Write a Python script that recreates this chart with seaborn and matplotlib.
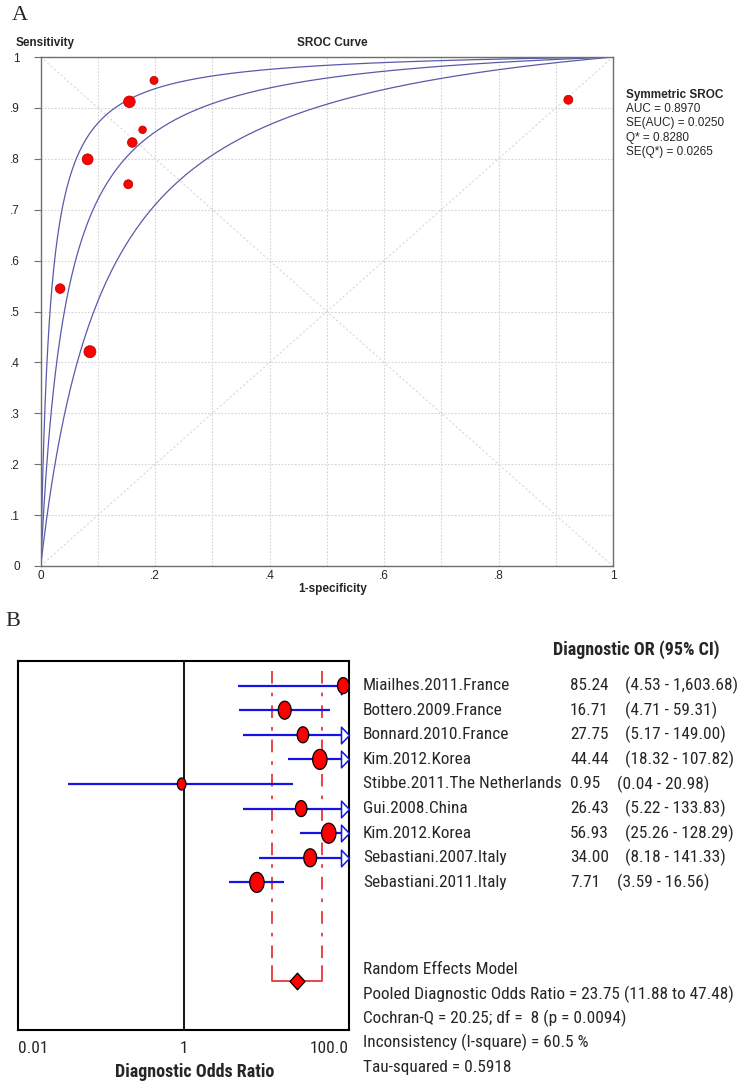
import matplotlib
matplotlib.use("Agg")
import matplotlib.pyplot as plt
from matplotlib.path import Path
import numpy as np
import pandas as pd
import seaborn as sns

# --- panel A: SROC data ---
fpr = [0.198, 0.155, 0.178, 0.160, 0.082, 0.153, 0.034, 0.086, 0.922]
sens = [0.954, 0.912, 0.857, 0.832, 0.799, 0.750, 0.545, 0.421, 0.916]
sroc_size = [34, 70, 30, 48, 62, 42, 48, 75, 42]
# log DOR of the upper bound, symmetric SROC and lower bound curves
curve_logdor = [4.1, 3.143, 2.28]
sroc_stats = ["AUC = 0.8970", "SE(AUC) = 0.0250", "Q* = 0.8280", "SE(Q*) = 0.0265"]

# --- panel B: forest plot data ---
studies = ["Miailhes.2011.France", "Bottero.2009.France", "Bonnard.2010.France",
           "Kim.2012.Korea", "Stibbe.2011.The Netherlands", "Gui.2008.China",
           "Kim.2012.Korea", "Sebastiani.2007.Italy", "Sebastiani.2011.Italy"]
dor = [85.24, 16.71, 27.75, 44.44, 0.95, 26.43, 56.93, 34.00, 7.71]
ci_lo = [4.53, 4.71, 5.17, 18.32, 0.04, 5.22, 25.26, 8.18, 3.59]
ci_hi = [1603.68, 59.31, 149.00, 107.82, 20.98, 133.83, 128.29, 141.33, 16.56]
weight_px = [16, 18, 16, 20, 12, 16, 20, 18, 20]
pooled, pooled_lo, pooled_hi = 23.75, 11.88, 47.48
summary = ["Random Effects Model",
           "Pooled Diagnostic Odds Ratio = 23.75 (11.88 to 47.48)",
           "Cochran-Q = 20.25; df =  8 (p = 0.0094)",
           "Inconsistency (I-square) = 60.5 %",
           "Tau-squared = 0.5918"]

sns.set_style("white")
plt.rcParams["font.family"] = ["Liberation Sans", "DejaVu Sans"]
narrow = ["Roboto Condensed", "DejaVu Sans Condensed", "Liberation Sans"]
fs_b = 12.4

fig = plt.figure(figsize=(7.45, 10.87), dpi=100)
W, H = 745.0, 1087.0


def fx(px):
    return px / W


def fy(py):
    return 1 - py / H


# ================= A =================
ax1 = fig.add_axes([fx(40.7), fy(566), 572.3 / W, 509 / H])
grid = np.concatenate([np.logspace(-7, -1, 300), np.linspace(0.1, 1, 300)[1:]])
for d in curve_logdor:
    lg = np.log(grid / (1 - grid + 1e-12)) + d
    tpr = 1 / (1 + np.exp(-lg))
    tpr[-1] = 1.0
    sns.lineplot(x=grid, y=tpr, ax=ax1, color="#5a5aaa", lw=0.9, sort=False)

ax1.plot([0, 1], [1, 0], ls=(0, (2, 2)), color="#d9d9d9", lw=0.8, zorder=1)
ax1.plot([0, 1], [0, 1], ls=(0, (2, 2)), color="#d9d9d9", lw=0.8, zorder=1)

pts = pd.DataFrame({"fpr": fpr, "sens": sens})
sns.scatterplot(data=pts, x="fpr", y="sens", ax=ax1, s=sroc_size, color="#ff0000",
                edgecolor="#b00000", linewidth=0.5, zorder=5, legend=False)

ax1.set_xlim(0, 1)
ax1.set_ylim(0, 1)
ax1.set_xticks(np.arange(0, 1.01, 0.2))
ax1.set_xticks(np.arange(0.1, 1.0, 0.2), minor=True)
ax1.set_xticklabels(["0", ".2", ".4", ".6", ".8", "1"])
ax1.set_yticks(np.arange(0, 1.01, 0.1))
ax1.set_yticklabels(["0"] + ["." + str(i) for i in range(1, 10)] + ["1"])
ax1.grid(which="both", ls=(0, (1.5, 1.5)), color="#d4d4d4", lw=0.8)
ax1.tick_params(axis="x", which="both", length=0, pad=3, labelsize=8.5)
ax1.tick_params(axis="y", length=5, direction="out", color="#707070", pad=10,
                labelsize=8.5, left=True)
for sp in ax1.spines.values():
    sp.set_color("#6e6e6e")
    sp.set_linewidth(1.0)
ax1.set_xlabel("")
ax1.set_ylabel("")

fig.text(fx(16), fy(43), "Sensitivity", fontsize=8.5, fontweight="bold", va="center")
fig.text(fx(332), fy(43), "SROC Curve", fontsize=8.5, fontweight="bold",
         ha="center", va="center")
fig.text(fx(333), fy(589), "1-specificity", fontsize=8.5, fontweight="bold",
         ha="center", va="center")
fig.text(fx(626), fy(95), "Symmetric SROC", fontsize=8.5, fontweight="bold", va="center")
for i, line in enumerate(sroc_stats):
    fig.text(fx(626), fy(109 + 14.3 * i), line, fontsize=8.5, va="center")

fig.text(fx(12), fy(15), "A", fontsize=16, family="Liberation Serif", va="center")
fig.text(fx(5), fy(622), "B", fontsize=16, family="Liberation Serif", va="center")

# ================= B =================
ax2 = fig.add_axes([fx(18), fy(1030), 331 / W, 369 / H])
ax2.set_xscale("log")
ax2.set_xlim(0.01, 100)
ax2.set_ylim(14, -1)
rows = np.arange(len(studies))

ax2.axvline(1, color="black", lw=1.3, zorder=1)

# pooled CI dashed lines and bracket
red = "#e8363c"
for v in (pooled_lo, pooled_hi):
    ax2.plot([v, v], [-0.6, 11.4], color=red, lw=1.3, ls=(0, (7, 5, 2, 5)), zorder=1)
ax2.plot([pooled_lo, pooled_lo, pooled_hi, pooled_hi], [11.4, 12, 12, 11.4],
         color=red, lw=1.3, zorder=2)

blue = "#1414e6"
ax2.hlines(rows, ci_lo, np.minimum(ci_hi, 100), color=blue, lw=1.6, zorder=2)

arrow = Path([(-0.96, -1), (0, 0), (-0.96, 1), (-0.96, -1)],
             [Path.MOVETO, Path.LINETO, Path.LINETO, Path.CLOSEPOLY])
arr_rows = [r for r in rows if ci_hi[r] > 100]
ax2.plot([100] * len(arr_rows), arr_rows, ls="none", marker=arrow, ms=12,
         mfc="white", mec=blue, mew=1.1, clip_on=False, zorder=3)

theta = np.linspace(0, 2 * np.pi, 40)
ellipse = Path(np.column_stack([0.72 * np.cos(theta), np.sin(theta)]), closed=True)
forest = pd.DataFrame({"dor": dor, "row": rows})
sns.scatterplot(data=forest, x="dor", y="row", ax=ax2, marker=ellipse,
                s=[(h * 0.72) ** 2 for h in weight_px], color="#ff0000",
                edgecolor="black", linewidth=0.9, zorder=4, legend=False,
                clip_on=False)

diamond = Path([(0, 1), (0.9, 0), (0, -1), (-0.9, 0), (0, 1)],
               [Path.MOVETO, Path.LINETO, Path.LINETO, Path.LINETO, Path.CLOSEPOLY])
ax2.plot([pooled], [12], ls="none", marker=diamond, ms=12, mfc="#ff0000",
         mec="black", mew=0.9, zorder=5)

ax2.set_xticks([0.01, 1, 100])
ax2.set_xticks([], minor=True)
ax2.set_xticklabels(["0.01", "1", "100.0"])
ax2.set_yticks([])
ax2.tick_params(axis="x", length=0, pad=8, labelsize=fs_b)
for lab in ax2.get_xticklabels():
    lab.set_fontfamily(narrow)
labs = ax2.get_xticklabels()
labs[0].set_ha("left")
labs[-1].set_ha("right")
for sp in ax2.spines.values():
    sp.set_color("black")
    sp.set_linewidth(1.5)
ax2.set_xlabel("")
ax2.set_ylabel("")

fig.text(fx(195), fy(1072), "Diagnostic Odds Ratio", fontsize=fs_b + 0.6,
         fontweight="bold", family=narrow, ha="center", va="center")

tr = ax2.get_yaxis_transform()
ax2.text(1.616, -1.46, "Diagnostic OR (95% CI)", transform=tr, fontsize=fs_b + 0.6,
         fontweight="bold", family=narrow, va="center", clip_on=False)
for r, name in enumerate(studies):
    val = f"{dor[r]:.2f}"
    ci = f"({ci_lo[r]:,.2f} - {ci_hi[r]:,.2f})"
    ax2.text(1.042, r, name, transform=tr, fontsize=fs_b, family=narrow,
             va="center", clip_on=False)
    ax2.text(1.668, r, val, transform=tr, fontsize=fs_b, family=narrow,
             va="center", clip_on=False)
    cx = 1.834 if len(val) > 4 else 1.81
    ax2.text(cx, r, ci, transform=tr, fontsize=fs_b, family=narrow,
             va="center", clip_on=False)
for i, line in enumerate(summary):
    ax2.text(1.042, 11.55 + 0.99 * i, line, transform=tr, fontsize=fs_b,
             family=narrow, va="center", clip_on=False)

fig.savefig("out.png", dpi=100)
